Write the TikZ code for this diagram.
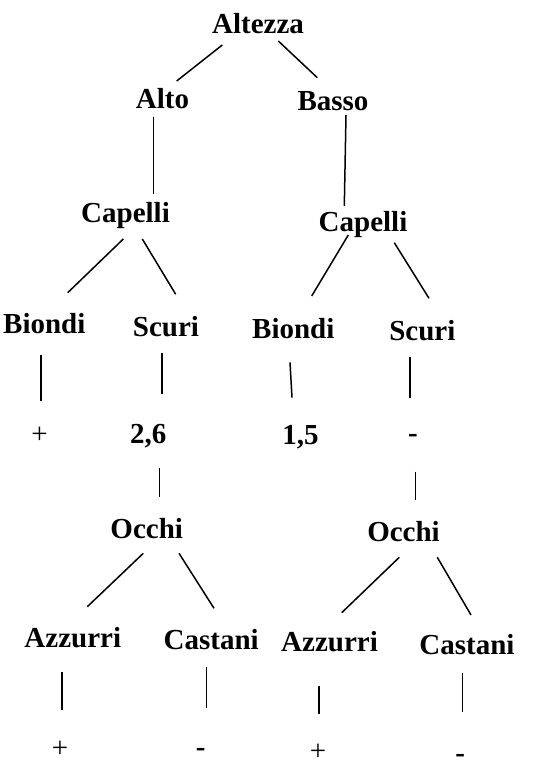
\documentclass[tikz,border=0pt]{standalone}
\usepackage{fontspec}
\setmainfont{Liberation Serif}[BoldFont={Liberation Serif Bold}]
\begin{document}
\begin{tikzpicture}[x=1pt,y=-1pt,
  lbl/.style={font=\fontsize{29}{34}\selectfont\bfseries, anchor=base, inner sep=0pt},
  sgn/.style={font=\fontsize{29}{34}\selectfont, anchor=base, inner sep=0pt},
  conn/.style={line width=1.5pt}]
\useasboundingbox (0,0) rectangle (538,767);
% nodes
\node[lbl] (altezza) at (258,33.3) {Altezza};
\node[lbl] (alto) at (162.5,109) {Alto};
\node[lbl] (basso) at (333,111) {Basso};
\node[lbl] (capL) at (125.5,222.7) {Capelli};
\node[lbl] (capR) at (363,231) {Capelli};
\node[lbl] (biondiL) at (44.3,333.3) {Biondi};
\node[lbl] (scuriL) at (166,336) {Scuri};
\node[lbl] (biondiR) at (293.3,338.3) {Biondi};
\node[lbl] (scuriR) at (422.3,340) {Scuri};
\node[sgn] (plusA) at (39.5,443) {+};
\node[lbl] (v26) at (148.3,443.3) {2,6};
\node[lbl] (v15) at (300.5,444.3) {1,5};
\node[lbl] (minusA) at (413,442.5) {-};
\node[lbl] (occhiL) at (146.7,538.3) {Occhi};
\node[lbl] (occhiR) at (403.5,541.7) {Occhi};
\node[lbl] (azzL) at (72.8,647.7) {Azzurri};
\node[lbl] (castL) at (211.2,649.3) {Castani};
\node[lbl] (azzR) at (329.5,651.7) {Azzurri};
\node[lbl] (castR) at (467,654.3) {Castani};
\node[sgn] (plusB) at (60,757) {+};
\node[lbl] (minusB) at (200.8,756) {-};
\node[sgn] (plusC) at (318,760.7) {+};
\node[lbl] (minusC) at (460.3,762) {-};
% connectors
\draw[conn] ([shift={(-35.7,11.7)}]altezza.base) -- ([shift={(14.2,-28)}]alto.base);
\draw[conn] ([shift={(20.3,7.7)}]altezza.base) -- ([shift={(-15.7,-33.3)}]basso.base);
\draw[conn] ([shift={(-8.8,7.7)}]alto.base) -- ([shift={(28.2,-28.7)}]capL.base);
\draw[conn] ([shift={(13,4)}]basso.base) -- ([shift={(-18.7,-25)}]capR.base);
\draw[conn] ([shift={(-2.2,16.3)}]capL.base) -- ([shift={(23.4,-40.6)}]biondiL.base);
\draw[conn] ([shift={(16.8,16.3)}]capL.base) -- ([shift={(9.7,-41.7)}]scuriL.base);
\draw[conn] ([shift={(-14.7,4)}]capR.base) -- ([shift={(18.4,-42.3)}]biondiR.base);
\draw[conn] ([shift={(31.3,11.7)}]capR.base) -- ([shift={(6.7,-41.7)}]scuriR.base);
\draw[conn] ([shift={(-3.3,21.7)}]biondiL.base) -- ([shift={(1.5,-42.3)}]plusA.base);
\draw[conn] ([shift={(-4,16.7)}]scuriL.base) -- ([shift={(13.7,-49.3)}]v26.base);
\draw[conn] ([shift={(-3.3,24)}]biondiR.base) -- ([shift={(-8.5,-46.6)}]v15.base);
\draw[conn] ([shift={(-12.3,16.7)}]scuriR.base) -- ([shift={(-3,-44.8)}]minusA.base);
\draw[conn] ([shift={(11,25)}]v26.base) -- ([shift={(12.6,-41.6)}]occhiL.base);
\draw[conn] ([shift={(2.3,29.2)}]minusA.base) -- ([shift={(11.8,-41.7)}]occhiR.base);
\draw[conn] ([shift={(-3.4,15)}]occhiL.base) -- ([shift={(14.5,-41)}]azzL.base);
\draw[conn] ([shift={(32.3,15)}]occhiL.base) -- ([shift={(2.8,-41)}]castL.base);
\draw[conn] ([shift={(-4.2,15.6)}]occhiR.base) -- ([shift={(12.2,-39)}]azzR.base);
\draw[conn] ([shift={(33.8,15.6)}]occhiR.base) -- ([shift={(4,-39.3)}]castR.base);
\draw[conn] ([shift={(-10.8,24)}]azzL.base) -- ([shift={(2,-47)}]plusB.base);
\draw[conn] ([shift={(-4.9,17.4)}]castL.base) -- ([shift={(5.5,-47.7)}]minusB.base);
\draw[conn] ([shift={(-10.5,34)}]azzR.base) -- ([shift={(1,-46.7)}]plusC.base);
\draw[conn] ([shift={(-4.7,19)}]castR.base) -- ([shift={(2,-50.3)}]minusC.base);
\end{tikzpicture}
\end{document}
